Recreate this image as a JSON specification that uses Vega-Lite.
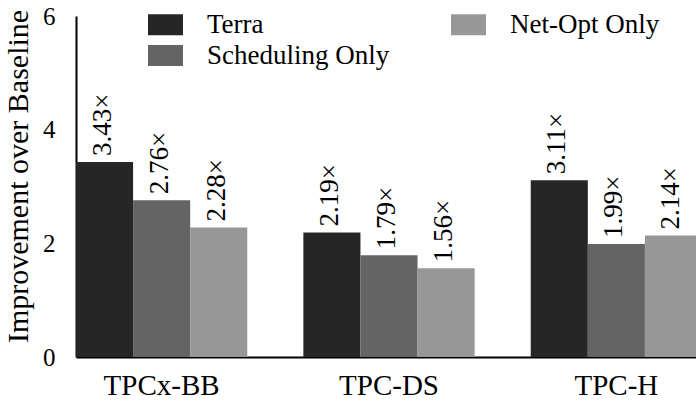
{
  "$schema": "https://vega.github.io/schema/vega-lite/v6.json",
  "width": 620,
  "height": 341,
  "autosize": {"type": "none"},
  "padding": {"left": 76, "top": 16, "right": 0, "bottom": 45},
  "background": "white",
  "config": {
    "font": "Liberation Serif, serif",
    "view": {"stroke": null},
    "style": {
      "guide-label": {"font": "Liberation Serif, serif", "fill": "black"},
      "guide-title": {"font": "Liberation Serif, serif", "fill": "black"}
    },
    "axis": {"grid": false, "ticks": false, "domainColor": "black", "domainWidth": 2, "labelColor": "black", "titleColor": "black", "labelFont": "Liberation Serif, serif", "titleFont": "Liberation Serif, serif", "titleFontWeight": "normal"},
    "legend": {"labelFont": "Liberation Serif, serif"}
  },
  "data": {"values": [
    {"benchmark": "TPCx-BB", "method": "Terra", "value": 3.43, "label": "3.43×"},
    {"benchmark": "TPCx-BB", "method": "Scheduling Only", "value": 2.76, "label": "2.76×"},
    {"benchmark": "TPCx-BB", "method": "Net-Opt Only", "value": 2.28, "label": "2.28×"},
    {"benchmark": "TPC-DS", "method": "Terra", "value": 2.19, "label": "2.19×"},
    {"benchmark": "TPC-DS", "method": "Scheduling Only", "value": 1.79, "label": "1.79×"},
    {"benchmark": "TPC-DS", "method": "Net-Opt Only", "value": 1.56, "label": "1.56×"},
    {"benchmark": "TPC-H", "method": "Terra", "value": 3.11, "label": "3.11×"},
    {"benchmark": "TPC-H", "method": "Scheduling Only", "value": 1.99, "label": "1.99×"},
    {"benchmark": "TPC-H", "method": "Net-Opt Only", "value": 2.14, "label": "2.14×"}
  ]},
  "encoding": {
    "x": {"field": "benchmark", "type": "nominal", "sort": ["TPCx-BB", "TPC-DS", "TPC-H"],
      "scale": {"range": [0, 626], "paddingInner": 0.2467, "paddingOuter": 0},
      "axis": {"title": null, "labelAngle": 0, "labelFontSize": 29, "labelPadding": 14, "labelFont": "Liberation Serif, serif"}},
    "xOffset": {"field": "method", "type": "nominal", "sort": ["Terra", "Scheduling Only", "Net-Opt Only"]},
    "y": {"field": "value", "type": "quantitative", "scale": {"domain": [0, 6], "nice": false},
      "axis": {"title": "Improvement over Baseline", "values": [0, 2, 4, 6], "labelFontSize": 25, "labelPadding": 21, "labelFont": "Liberation Serif, serif",
        "titleFontSize": 30, "titleX": -43, "titleY": 160, "titleFont": "Liberation Serif, serif"}}
  },
  "layer": [
    {
      "mark": {"type": "bar"},
      "encoding": {
        "color": {"field": "method", "type": "nominal",
          "scale": {"domain": ["Terra", "Scheduling Only", "Net-Opt Only"], "range": ["#262626", "#646464", "#979797"]},
          "legend": {"title": null, "orient": "none", "legendX": 72, "legendY": -9, "columns": 2, "columnPadding": 61, "rowPadding": 0,
            "symbolType": "M-1,-0.6H1V0.6H-1Z", "symbolSize": 1225, "symbolStrokeWidth": 0, "symbolOpacity": 1,
            "labelFontSize": 27, "labelFont": "Liberation Serif, serif", "labelColor": "black", "labelOffset": 24, "labelLimit": 400, "padding": 0}
        }
      }
    },
    {
      "mark": {"type": "text", "angle": 270, "align": "left", "baseline": "middle", "dx": 6, "dy": -2, "fontSize": 27, "font": "Liberation Serif, serif", "color": "black"},
      "encoding": {"text": {"field": "label"}}
    }
  ]
}
